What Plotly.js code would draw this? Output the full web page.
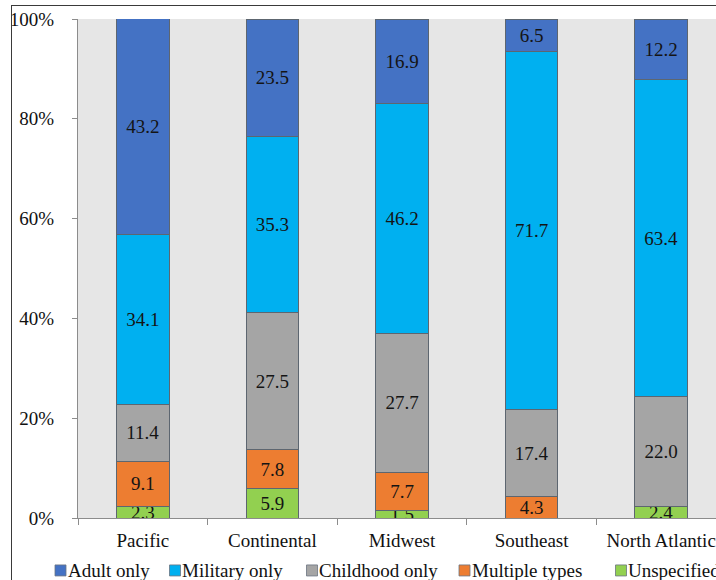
<!DOCTYPE html>
<html>
<head>
<meta charset="utf-8">
<script src="https://cdn.plot.ly/plotly-3.0.1.min.js"></script>
<style>
  html, body { margin: 0; padding: 0; width: 716px; height: 580px; overflow: hidden; background: #fff; }
  #status { position: absolute; left: 200px; top: 200px; width: 120px; font: 11px monospace;
            color: #E6E6E6; background: #E6E6E6; z-index: 0; }
  #chart { position: absolute; left: 0; top: 0; width: 740px; height: 580px; z-index: 1; }
  #chart svg text { font-family: "Liberation Serif", "Times New Roman", serif !important; }
  #frame { position: absolute; left: 11px; top: 5px; width: 900px; height: 900px; z-index: 2;
           border: 1.5px solid #3a3a3a; pointer-events: none; box-sizing: border-box; }
</style>
</head>
<body>
<div id="status"></div>
<div id="chart"></div>
<div id="frame"></div>
<script>
// Regions along the x axis
const regions = ['Pacific', 'Continental', 'Midwest', 'Southeast', 'North Atlantic'];

// Percent share of each type per region (null = no segment)
const unspecified = [2.3, 5.9, 1.5, null, 2.4];
const multipleTypes = [9.1, 7.8, 7.7, 4.3, null];
const childhoodOnly = [11.4, 27.5, 27.7, 17.4, 22.0];
const militaryOnly = [34.1, 35.3, 46.2, 71.7, 63.4];
const adultOnly = [43.2, 23.5, 16.9, 6.5, 12.2];

const yTicks = [0, 20, 40, 60, 80, 100];
const yTickText = ['0%', '20%', '40%', '60%', '80%', '100%'];

const FONT = 'Liberation Serif';

// Stack order bottom to top
const series = [
  { name: 'Unspecified',    values: unspecified,   color: '#92D050' },
  { name: 'Multiple types', values: multipleTypes, color: '#ED7D31' },
  { name: 'Childhood only', values: childhoodOnly, color: '#A5A5A5' },
  { name: 'Military only',  values: militaryOnly,  color: '#00B0F0' },
  { name: 'Adult only',     values: adultOnly,     color: '#4472C4' }
];

// Figure geometry (pixels)
const W = 740, H = 580;
const M = { l: 78, r: 14, t: 18.5, b: 62 };
const plotW = W - M.l - M.r, plotH = H - M.t - M.b;
const px2x = px => (px - M.l) / plotW;
const px2y = py => (H - M.b - py) / plotH;

// Legend row along the bottom: left edge of each swatch, in legend order
const legendOrder = series.slice().reverse();
const swatchLeft = [55, 169.5, 306.5, 459, 615.5];
const legendMidY = 570.5, swatch = 11;

const traces = series.map(s => ({
  type: 'bar',
  name: s.name,
  x: regions,
  y: s.values,
  marker: { color: s.color, line: { color: '#5d6670', width: 1 } },
  texttemplate: '%{y:.1f}',
  textposition: 'inside',
  insidetextanchor: 'middle',
  constraintext: 'none',
  textangle: 0,
  textfont: { family: FONT, size: 19, color: '#141414' },
  hoverinfo: 'skip',
  showlegend: false
}));

const shapes = legendOrder.map((s, i) => ({
  type: 'rect', xref: 'paper', yref: 'paper',
  x0: px2x(swatchLeft[i]), x1: px2x(swatchLeft[i] + swatch),
  y0: px2y(legendMidY + swatch / 2), y1: px2y(legendMidY - swatch / 2),
  fillcolor: s.color, line: { color: '#6b7480', width: 0.8 }
}));

const annotations = legendOrder.map((s, i) => ({
  xref: 'paper', yref: 'paper',
  x: px2x(swatchLeft[i] + swatch + 0.5), y: px2y(legendMidY),
  xanchor: 'left', yanchor: 'middle',
  text: s.name, showarrow: false, borderpad: 0,
  font: { family: FONT, size: 19, color: '#111' }
}));

const layout = {
  width: W,
  height: H,
  margin: M,
  paper_bgcolor: 'rgba(0,0,0,0)',
  plot_bgcolor: '#E6E6E6',
  barmode: 'stack',
  bargap: 0.594,
  font: { family: FONT, size: 19, color: '#111' },
  showlegend: false,
  shapes: shapes,
  annotations: annotations,
  xaxis: {
    type: 'category',
    showline: true, linecolor: '#8c8c8c', linewidth: 1,
    ticks: 'outside', ticklen: 6, tickcolor: '#8c8c8c',
    tickson: 'boundaries',
    ticklabelstandoff: 5,
    showgrid: false,
    automargin: false,
    tickfont: { family: FONT, size: 19, color: '#111' }
  },
  yaxis: {
    range: [0, 100],
    tickvals: yTicks,
    ticktext: yTickText,
    showline: true, linecolor: '#8c8c8c', linewidth: 1,
    ticks: 'outside', ticklen: 5, tickcolor: '#8c8c8c',
    ticklabelstandoff: 14,
    showgrid: false, zeroline: false,
    automargin: false,
    tickfont: { family: FONT, size: 19, color: '#111' }
  }
};

const config = { staticPlot: true, displayModeBar: false };
const gd = document.getElementById('chart');

// Resolve the font on every drawn label and refresh the page text behind the plot
function settle() {
  const labels = gd.querySelectorAll('text');
  let total = 0;
  labels.forEach(t => { getComputedStyle(t).fontFamily; total += t.getBBox().width; });
  document.getElementById('status').textContent = labels.length + ' / ' + total.toFixed(0);
}

function draw() {
  return Plotly.newPlot(gd, traces, layout, config).then(settle);
}

draw();
setTimeout(draw, 60);
setTimeout(draw, 300);
</script>
</body>
</html>
